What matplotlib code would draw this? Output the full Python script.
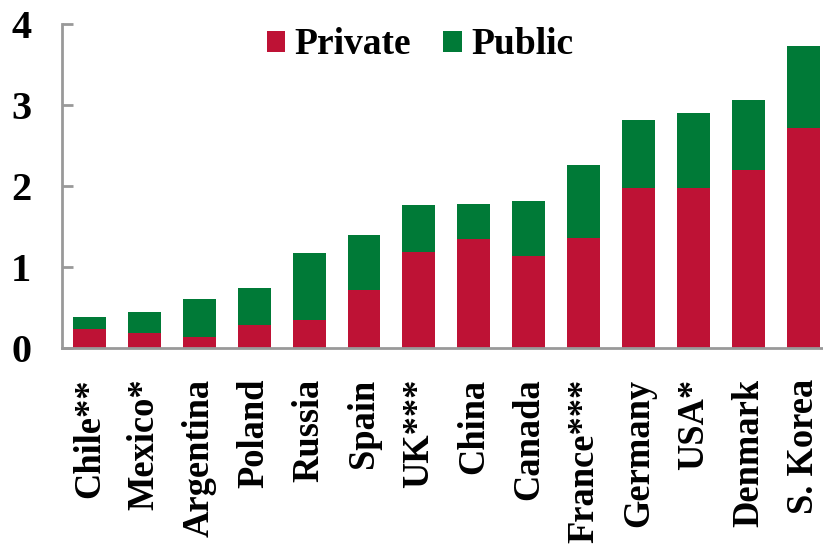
import matplotlib
matplotlib.use("Agg")
import matplotlib.pyplot as plt
import numpy as np

countries = ["Chile**", "Mexico*", "Argentina", "Poland", "Russia", "Spain",
             "UK***", "China", "Canada", "France***", "Germany", "USA*",
             "Denmark", "S. Korea"]
private = [0.24, 0.19, 0.14, 0.28, 0.34, 0.72, 1.18, 1.34, 1.14, 1.36,
           1.97, 1.98, 2.20, 2.72]
public = [0.14, 0.25, 0.47, 0.46, 0.83, 0.67, 0.58, 0.44, 0.67, 0.90,
          0.85, 0.92, 0.86, 1.01]
yticks = [0, 1, 2, 3, 4]

RED = "#BE1235"
GREEN = "#007A37"
AXIS_GREY = "#999999"

plt.rcParams["font.family"] = ["Liberation Serif", "DejaVu Serif"]
plt.rcParams["font.weight"] = "bold"

fig = plt.figure(figsize=(8.23, 5.49), dpi=100)
ax = fig.add_axes([62 / 823, 1 - 348 / 549, 1 - 62 / 823, (348 - 24) / 549])

x = np.arange(len(countries))
ax.bar(x, private, width=0.6, color=RED, label="Private", zorder=2)
ax.bar(x, public, width=0.6, bottom=private, color=GREEN, label="Public", zorder=2)

ax.set_xlim(-0.5, 13.36)
ax.set_ylim(0, 4)
ax.set_yticks(yticks)
ax.set_yticklabels([str(v) for v in yticks], fontsize=29, fontweight="bold")
ax.set_xticks(x)
ax.set_xticklabels(countries, rotation=90, fontsize=26.3, fontweight="bold",
                   va="top", ha="center")

for side in ("top", "right"):
    ax.spines[side].set_visible(False)
for side in ("left", "bottom"):
    ax.spines[side].set_color(AXIS_GREY)
    ax.spines[side].set_linewidth(2)
ax.tick_params(axis="y", direction="in", length=8, width=2, color=AXIS_GREY, pad=22)
ax.tick_params(axis="x", length=0, pad=22)

leg = ax.legend(loc="center", bbox_to_anchor=(420 / 823, 1 - 45 / 549),
                bbox_transform=fig.transFigure, ncol=2, frameon=False,
                prop={"size": 27, "weight": "bold"}, handlelength=0.5,
                handleheight=0.5, handletextpad=0.25, columnspacing=0.85)

fig.savefig("out.png", dpi=100)
